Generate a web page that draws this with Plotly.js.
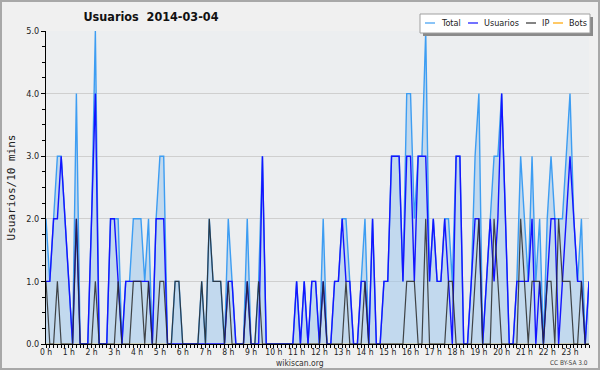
<!DOCTYPE html>
<html><head><meta charset="utf-8">
<script src="https://cdn.plot.ly/plotly-3.0.1.min.js"></script>
<style>
html,body{margin:0;padding:0;background:#f0f0f0}
#wrap{position:relative;width:600px;height:370px}
#chart{width:600px;height:370px}
#frame{position:absolute;left:0;top:0;width:600px;height:370px;box-sizing:border-box;border:2px solid #a8a8a8;pointer-events:none}
</style>
</head><body><div id="wrap"><div id="chart"></div><div id="frame"></div></div>
<script>
// 10-minute slots of 2014-03-04 (index 0 = 00:00, 143 = 23:50)
const slots = Array.from({length: 144}, (_, i) => i);
const hours = [0,1,2,3,4,5,6,7,8,9,10,11,12,13,14,15,16,17,18,19,20,21,22,23];
const hourLabels = hours.map(h => h + " h");

const total = [
 2,1,2,3,3,2,1,0,4,0,
 0,0,2,5,0,0,0,2,2,2,
 0,1,1,2,2,2,1,2,0,2,
 3,3,0,0,1,1,0,0,0,0,
 0,1,0,2,1,1,1,0,2,1,
 0,0,0,2,0,0,1,3,0,0,
 0,0,0,0,0,0,1,0,1,0,
 1,1,0,2,0,0,1,1,2,2,
 1,0,0,1,2,0,2,0,0,1,
 1,3,3,3,1,4,4,2,3,3,
 5,1,2,1,1,2,2,1,3,3,
 0,0,1,3,4,0,1,2,3,3,
 4,2,0,0,1,3,2,1,3,1,
 2,0,2,3,2,2,2,3,4,2,
 1,2,0,1];
const usuarios = [
 1,1,2,2,3,2,1,0,2,0,
 0,0,2,4,0,0,0,2,2,1,
 0,1,1,1,1,1,1,1,0,2,
 2,2,0,0,0,0,0,0,0,0,
 0,0,0,0,0,0,0,0,1,1,
 0,0,0,1,0,0,0,3,0,0,
 0,0,0,0,0,0,1,0,1,0,
 1,1,0,1,0,0,1,1,2,1,
 1,0,0,1,1,0,2,0,0,1,
 1,3,3,3,1,3,3,1,3,3,
 3,1,2,1,1,2,1,0,3,3,
 0,0,1,2,2,0,1,2,1,2,
 4,2,0,0,1,1,1,1,2,0,
 1,0,1,2,2,0,1,2,3,2,
 1,1,0,1];
const ip = [
 1,0,0,1,0,0,0,0,2,0,
 0,0,0,1,0,0,0,0,0,1,
 0,0,0,1,1,1,0,1,0,0,
 1,1,0,0,1,1,0,0,0,0,
 0,1,0,2,1,1,1,0,1,0,
 0,0,0,1,0,0,1,0,0,0,
 0,0,0,0,0,0,0,0,0,0,
 0,0,0,1,0,0,0,0,0,1,
 0,0,0,0,1,0,0,0,0,0,
 0,0,0,0,0,1,1,1,0,0,
 2,0,0,0,0,0,1,1,0,0,
 0,0,0,1,2,0,0,0,2,1,
 0,0,0,0,0,2,1,0,1,1,
 1,0,1,1,0,2,1,1,1,0,
 0,1,0,0];
const bots = new Array(144).fill(0);

const seriesNames = ["Total", "Usuarios", "IP", "Bots"];
const seriesColors = ["#3d9df2", "#1414ff", "#333333", "#ffa500"];

const FONT = "DejaVu Sans Condensed, DejaVu Sans, sans-serif";

const traces = [
  {x: slots, y: bots, name: seriesNames[3], type: "scatter", mode: "lines",
   line: {color: seriesColors[3], width: 1}},
  {x: slots, y: total, name: seriesNames[0], type: "scatter", mode: "lines",
   fill: "tozeroy", fillcolor: "rgba(160,200,236,0.55)",
   line: {color: seriesColors[0], width: 1.4}},
  {x: slots, y: usuarios, name: seriesNames[1], type: "scatter", mode: "lines",
   line: {color: seriesColors[1], width: 1.4}},
  {x: slots, y: ip, name: seriesNames[2], type: "scatter", mode: "lines",
   line: {color: "rgba(40,40,40,0.85)", width: 1.2}}
];

// pixel -> paper helpers for the hand-drawn legend box
const L = 46, R = 589, T = 31, B = 344;
const px = x => (x - L) / (R - L);
const py = y => (B - y) / (B - T);

const legendSwatch = [425, 468, 526, 553];
const legendText = [439, 482, 540, 567];
const legendY = 23;

const shapes = [
  {type: "rect", xref: "paper", yref: "paper", x0: px(423), x1: px(593), y0: py(36), y1: py(17),
   fillcolor: "#8a8a8a", line: {width: 0}, layer: "above"},
  {type: "rect", xref: "paper", yref: "paper", x0: px(420), x1: px(590), y0: py(33), y1: py(14),
   fillcolor: "#ffffff", line: {color: "#a0a0a0", width: 1}, layer: "above"}
];
seriesNames.forEach((n, k) => {
  shapes.push({type: "line", xref: "paper", yref: "paper",
    x0: px(legendSwatch[k]), x1: px(legendSwatch[k] + 10), y0: py(legendY), y1: py(legendY),
    line: {color: seriesColors[k], width: 1.2}, layer: "above"});
});

const annotations = seriesNames.map((n, k) => ({
  xref: "paper", yref: "paper", x: px(legendText[k]), y: py(legendY),
  xanchor: "left", yanchor: "middle", showarrow: false, text: n,
  font: {family: FONT, size: 9, color: "#222"}
}));
annotations.push({xref: "paper", yref: "paper", x: px(300), y: py(363), xanchor: "center", yanchor: "middle",
  showarrow: false, text: "wikiscan.org", font: {family: FONT, size: 8.5, color: "#333"}});
annotations.push({xref: "paper", yref: "paper", x: px(590), y: py(363), xanchor: "right", yanchor: "middle",
  showarrow: false, text: "CC BY-SA 3.0", font: {family: FONT, size: 6.5, color: "#444"}});

const layout = {
  width: 600, height: 370,
  margin: {l: L, r: 600 - R, t: T, b: 370 - B, pad: 0},
  paper_bgcolor: "#f0f0f0",
  plot_bgcolor: "#eceef0",
  showlegend: false,
  title: {text: "Usuarios  2014-03-04", x: 151 / 600, xref: "container", xanchor: "center",
          y: 1 - 17 / 370, yref: "container", yanchor: "middle",
          font: {family: FONT, size: 12.5, weight: "bold", color: "#111"}},
  xaxis: {range: [0, 143], tickmode: "array", tickvals: hours.map(h => h * 6), ticktext: hourLabels,
          ticks: "outside", ticklen: 3, tickcolor: "#000", ticklabelstandoff: -3,
          showgrid: false, zeroline: false,
          showline: true, linecolor: "#000", linewidth: 1,
          minor: {tickmode: "linear", tick0: 0, dtick: 1, ticks: "outside", ticklen: 3, tickcolor: "#000", showgrid: false},
          tickfont: {family: FONT, size: 8.5, color: "#222"}, fixedrange: true},
  yaxis: {range: [0, 5], dtick: 1, tick0: 0, tickformat: ".1f",
          ticks: "outside", ticklen: 4, tickcolor: "#000",
          minor: {dtick: 0.25, ticks: "outside", ticklen: 3, tickcolor: "#000", showgrid: false},
          showgrid: true, gridcolor: "#cfcfcf", gridwidth: 1, zeroline: false,
          showline: true, linecolor: "#000", linewidth: 1,
          tickfont: {family: FONT, size: 9, color: "#222"},
          title: {text: "Usuarios/10 mins", standoff: 8, font: {family: "DejaVu Sans Mono, monospace", size: 11, color: "#222"}},
          fixedrange: true},
  shapes: shapes,
  annotations: annotations
};

Plotly.newPlot("chart", traces, layout, {staticPlot: true, displayModeBar: false});
</script>
</body></html>
